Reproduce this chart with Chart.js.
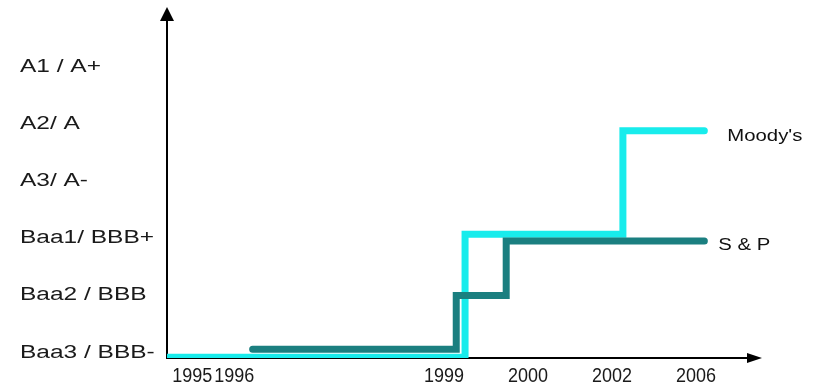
<!DOCTYPE html>
<html><head><meta charset="utf-8">
<script src="https://cdn.jsdelivr.net/npm/chart.js@4.4.1/dist/chart.umd.min.js"></script>
<style>html,body{margin:0;padding:0;background:#fff;} canvas{display:block;}</style>
</head><body>
<canvas id="c" width="817" height="392"></canvas>
<script>
// Rating categories (bottom to top)
const ratingLabels = ['Baa3 / BBB-', 'Baa2 / BBB', 'Baa1/ BBB+', 'A3/ A-', 'A2/ A', 'A1 / A+'];
// Timeline slots along the x axis (blank slots carry no label)
const timelineLabels = ['1995', '1996', '', '', '', '', '1999', '', '2000', '', '2002', '', '2006'];
// Series: change points (timeline position, rating level)
const seriesNames = ["Moody's", 'S & P'];
const moodysX = [-0.6, 6.5, 10.26, 12.2];
const moodysY = [-0.08, 2.07, 3.88, 3.88];
const spX = [1.44, 6.29, 7.48, 12.2];
const spY = [0.06, 1.0, 1.95, 1.95];

const toPoints = (xs, ys) => xs.map((x, i) => ({x: x, y: ys[i]}));

const decor = {
  id: 'decor',
  beforeDraw(chart) {
    const ys = chart.scales.y;
    if (ys && !ys._stretched) {
      const orig = ys.drawLabels.bind(ys);
      ys.drawLabels = function (area) {
        const c = chart.ctx;
        c.save();
        c.translate(ys.left, 0); c.scale(1.36, 1); c.translate(-ys.left, 0);
        orig(area);
        c.restore();
      };
      ys._stretched = true;
    }
    const xs = chart.scales.x;
    if (xs && !xs._stretched) {
      const origX = xs.drawLabels.bind(xs);
      xs.drawLabels = function (area) {
        const c = chart.ctx;
        c.save();
        c.translate(0, xs.top); c.scale(1, 1.15); c.translate(0, -xs.top);
        origX(area);
        c.restore();
      };
      xs._stretched = true;
    }
  },
  afterDraw(chart) {
    const {ctx, chartArea: a} = chart;
    ctx.save();
    ctx.fillStyle = '#000';
    ctx.beginPath();
    ctx.moveTo(a.left, a.top - 13); ctx.lineTo(a.left - 7, a.top + 1); ctx.lineTo(a.left + 7, a.top + 1);
    ctx.closePath(); ctx.fill();
    ctx.beginPath();
    ctx.moveTo(a.right + 14, a.bottom); ctx.lineTo(a.right - 1, a.bottom - 5); ctx.lineTo(a.right - 1, a.bottom + 5);
    ctx.closePath(); ctx.fill();
    // series end labels
    ctx.font = '16px "Liberation Sans", Arial, sans-serif';
    ctx.fillStyle = '#111';
    ctx.textBaseline = 'middle';
    ctx.textAlign = 'left';
    chart.data.datasets.forEach((ds, i) => {
      const meta = chart.getDatasetMeta(i);
      const last = meta.data[meta.data.length - 1];
      const tx = last.x + ds.endLabelDx, ty = last.y + ds.endLabelDy;
      ctx.save();
      ctx.translate(tx, ty); ctx.scale(1.27, 1);
      ctx.fillText(ds.label, 0, 0);
      ctx.restore();
    });
    ctx.restore();
  }
};

new Chart(document.getElementById('c'), {
  type: 'line',
  data: {
    datasets: [
      {
        label: seriesNames[1],
        data: toPoints(spX, spY),
        borderColor: '#1B7F80',
        borderWidth: 7,
        stepped: 'before',
        pointRadius: 0,
        borderCapStyle: 'round',
        borderJoinStyle: 'miter',
        endLabelDx: 14,
        endLabelDy: 5
      },
      {
        label: seriesNames[0],
        data: toPoints(moodysX, moodysY),
        borderColor: '#18ECEC',
        borderWidth: 7,
        stepped: 'before',
        pointRadius: 0,
        borderCapStyle: 'round',
        borderJoinStyle: 'miter',
        endLabelDx: 23,
        endLabelDy: 6
      }
    ]
  },
  options: {
    responsive: false,
    animation: false,
    events: [],
    layout: {padding: {left: 20, top: 20, right: 69, bottom: 0}},
    plugins: {legend: {display: false}, tooltip: {enabled: false}},
    scales: {
      x: {
        type: 'linear',
        min: -0.6,
        max: 13.24,
        grid: {display: false, drawTicks: false},
        border: {display: true, color: '#000', width: 2},
        afterBuildTicks: (s) => {
          s.ticks = timelineLabels.map((t, i) => ({value: i, label: t})).filter(t => t.label !== '').map(t => ({value: t.value}));
        },
        afterFit: (s) => { s.height = 34; },
        ticks: {
          autoSkip: false,
          maxRotation: 0,
          padding: 5,
          color: '#1a1a1a',
          font: {family: '"Liberation Sans", Arial, sans-serif', size: 18},
          callback: (v) => timelineLabels[v]
        }
      },
      y: {
        type: 'linear',
        min: -0.094,
        max: 5.815,
        grid: {display: false, drawTicks: false},
        border: {display: true, color: '#000', width: 2},
        afterBuildTicks: (s) => { s.ticks = ratingLabels.map((_, i) => ({value: i})); },
        afterFit: (s) => { s.width = 147; },
        ticks: {
          autoSkip: false,
          crossAlign: 'far',
          color: '#1a1a1a',
          font: {family: '"Liberation Sans", Arial, sans-serif', size: 18},
          callback: (v) => ratingLabels[v]
        }
      }
    }
  },
  plugins: [decor]
});
</script>
</body></html>
